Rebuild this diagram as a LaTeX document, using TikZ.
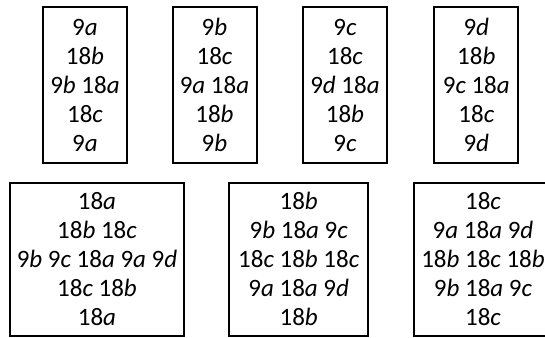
\documentclass[tikz,border=0pt]{standalone}
\usepackage{fontspec}
\setmainfont{Carlito}
\newcommand{\g}[2]{#1\textit{#2}}
\begin{document}
\begin{tikzpicture}[x=1pt,y=-1pt,
  cell/.style={draw=black, line width=2pt, inner sep=0pt, align=center,
    font=\fontsize{25}{29}\selectfont},
  tall/.style={cell, minimum width=84pt, minimum height=155pt},
  wide/.style={cell, minimum height=153pt}]
\useasboundingbox (0,0) rectangle (545,337);
\clip (0,0) rectangle (545,337);
% top row
\node[tall] (t1) at (85,85)    {\g{9}{a}\\\g{18}{b}\\\g{9}{b} \g{18}{a}\\\g{18}{c}\\\g{9}{a}};
\node[tall] (t2) at (214.5,85) {\g{9}{b}\\\g{18}{c}\\\g{9}{a} \g{18}{a}\\\g{18}{b}\\\g{9}{b}};
\node[tall] (t3) at (345,85)   {\g{9}{c}\\\g{18}{c}\\\g{9}{d} \g{18}{a}\\\g{18}{b}\\\g{9}{c}};
\node[tall] (t4) at (476.3,85) {\g{9}{d}\\\g{18}{b}\\\g{9}{c} \g{18}{a}\\\g{18}{c}\\\g{9}{d}};
% bottom row
\node[wide, minimum width=174pt] (b1) at (97,259)
  {\g{18}{a}\\\g{18}{b} \g{18}{c}\\\g{9}{b} \g{9}{c} \g{18}{a} \g{9}{a} \g{9}{d}\\\g{18}{c} \g{18}{b}\\\g{18}{a}};
\node[wide, minimum width=139pt] (b2) at (298.7,259)
  {\g{18}{b}\\\g{9}{b} \g{18}{a} \g{9}{c}\\\g{18}{c} \g{18}{b} \g{18}{c}\\\g{9}{a} \g{18}{a} \g{9}{d}\\\g{18}{b}};
\node[wide, minimum width=138pt] (b3) at (483,259)
  {\g{18}{c}\\\g{9}{a} \g{18}{a} \g{9}{d}\\\g{18}{b} \g{18}{c} \g{18}{b}\\\g{9}{b} \g{18}{a} \g{9}{c}\\\g{18}{c}};
\end{tikzpicture}
\end{document}
